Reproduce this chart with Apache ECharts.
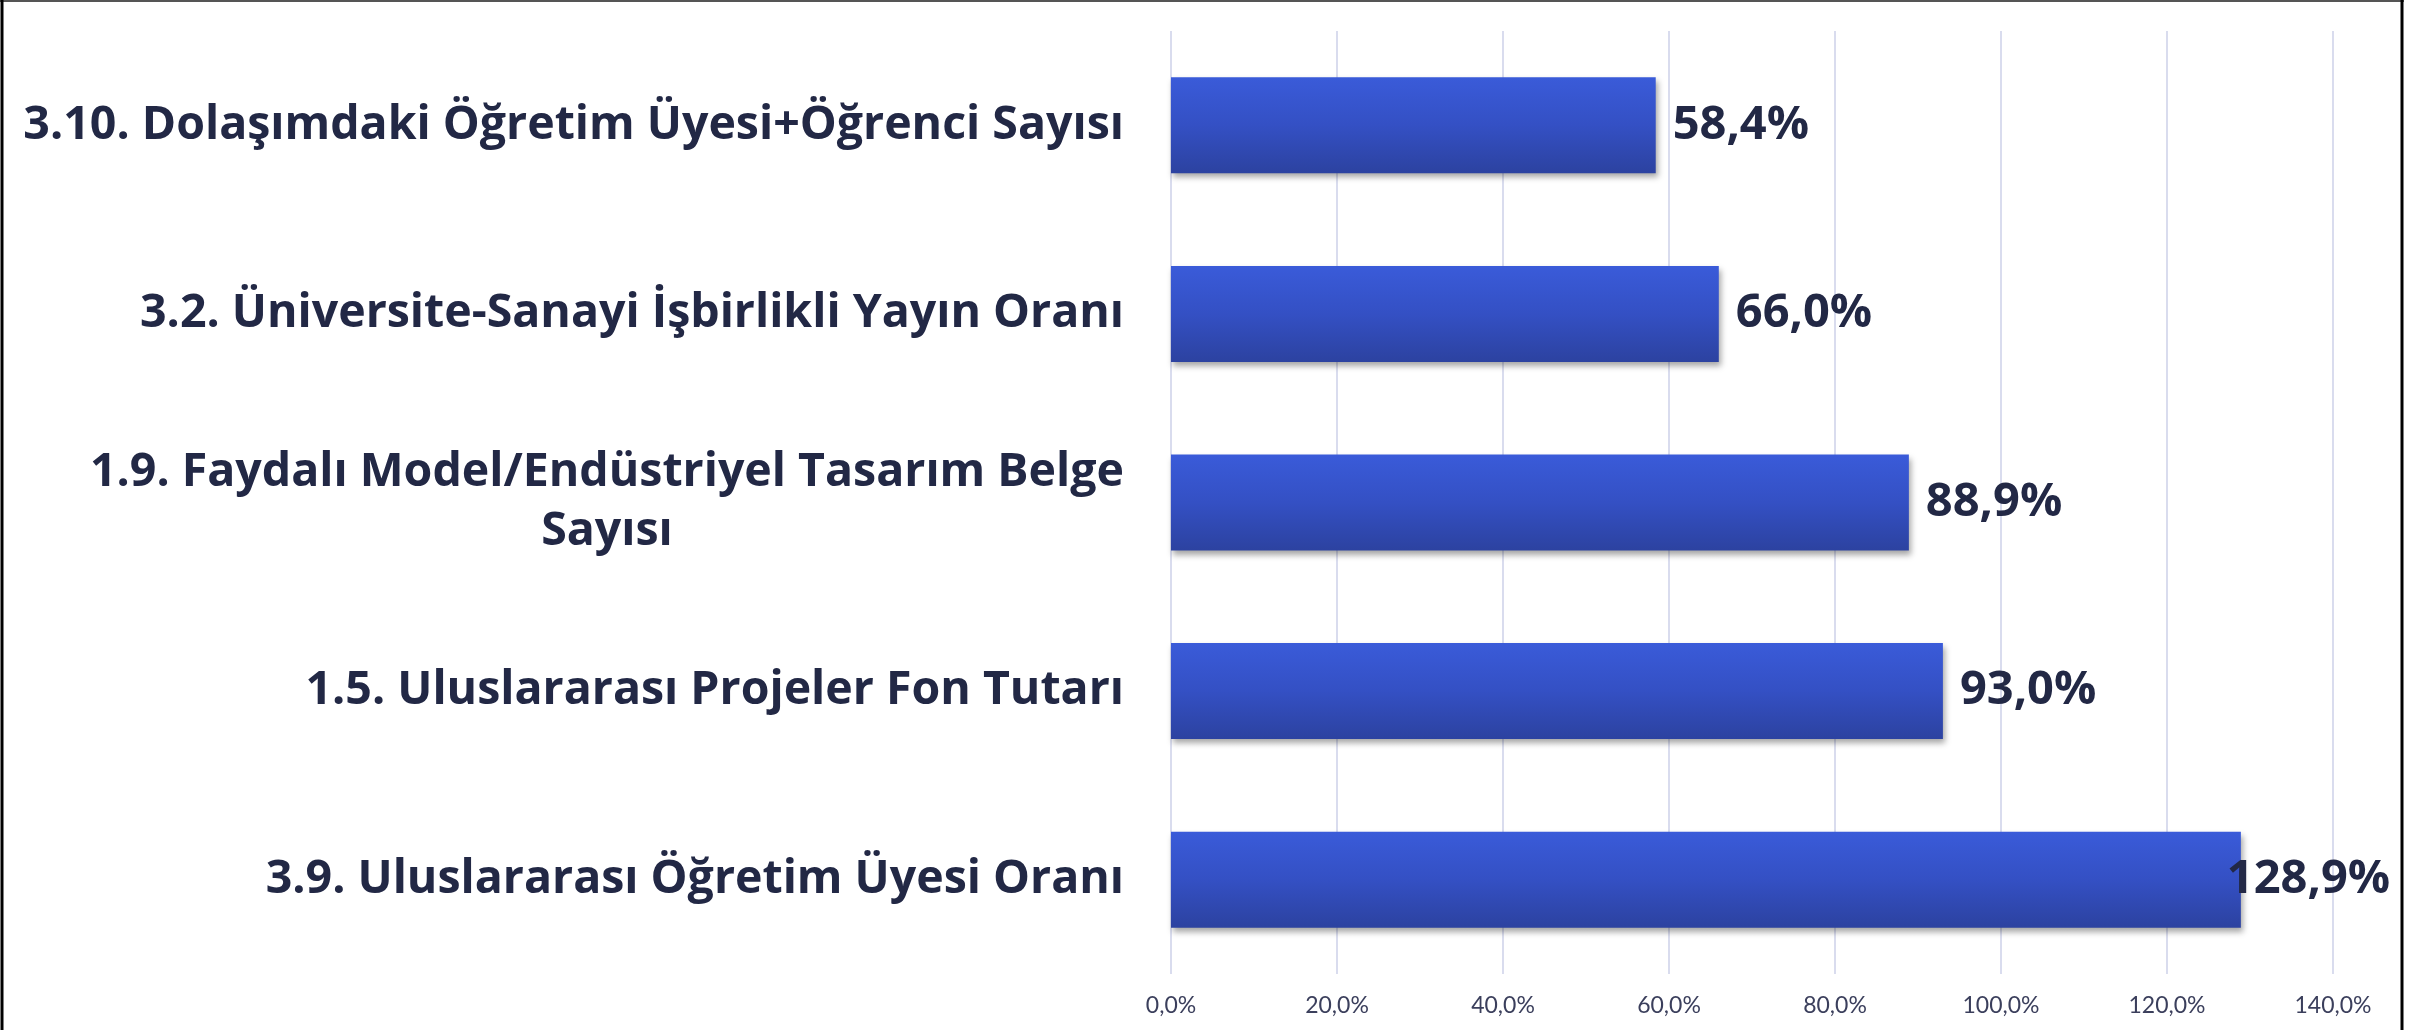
<!DOCTYPE html>
<html>
<head>
<meta charset="utf-8">
<script src="https://cdn.jsdelivr.net/npm/echarts@6/dist/echarts.min.js"></script>
<style>
  html, body { margin: 0; padding: 0; background: #fff; }
  #chart { width: 2428px; height: 1030px; }
</style>
</head>
<body>
<div id="chart"></div>
<script>
// kategoriler yukaridan asagiya
var categories = [
    "3.10. Dolaşımdaki Öğretim Üyesi+Öğrenci Sayısı",
    "3.2. Üniversite-Sanayi İşbirlikli Yayın Oranı",
    "1.9. Faydalı Model/Endüstriyel Tasarım Belge\nSayısı",
    "1.5. Uluslararası Projeler Fon Tutarı",
    "3.9. Uluslararası Öğretim Üyesi Oranı"
];
var values = [58.4, 66.0, 88.9, 93.0, 128.9];
var tickMin = 0, tickMax = 140, tickStep = 20;

var textColor = '#222845';
var boldFont = '"Open Sans"';
var tickFont = 'Lato';

function pct(v) {
    return Number(v).toFixed(1).replace('.', ',') + '%';
}

var chart = echarts.init(document.getElementById('chart'));

var barData = values.map(function (v, i) {
    var item = { value: v };
    // son etiket cizim alanina sigmiyor, Excel'deki gibi sola kaydir
    if (v > 120) {
        item.label = { offset: [-31, 0] };
    }
    return item;
});

var option = {
    backgroundColor: '#ffffff',
    animation: false,
    grid: { left: 1171, right: 95, top: 31, bottom: 56, containLabel: false },
    xAxis: {
        type: 'value',
        min: tickMin,
        max: tickMax,
        interval: tickStep,
        axisLine: { show: false },
        axisTick: { show: false },
        splitLine: { lineStyle: { color: '#d9dcee', width: 2 } },
        axisLabel: {
            margin: 20,
            fontFamily: tickFont,
            fontSize: 23,
            color: '#3b3f5c',
            formatter: function (v) { return pct(v); }
        }
    },
    yAxis: {
        type: 'category',
        data: categories,
        inverse: true,
        axisLine: { show: false },
        axisTick: { show: false },
        splitLine: { show: false },
        axisLabel: {
            margin: 47,
            fontFamily: boldFont,
            fontWeight: 'bold',
            fontSize: 46.5,
            color: textColor,
            lineHeight: 59,
            formatter: function (v) { return '{c|' + v.split('\n').join('}\n{c|') + '}'; },
            rich: {
                c: {
                    align: 'center',
                    fontFamily: boldFont,
                    fontWeight: 'bold',
                    fontSize: 46.5,
                    color: textColor,
                    lineHeight: 59
                }
            }
        }
    },
    series: [{
        type: 'bar',
        data: barData,
        barWidth: 96,
        itemStyle: {
            color: new echarts.graphic.LinearGradient(0, 0, 0, 1, [
                { offset: 0, color: '#3a5bd9' },
                { offset: 0.5, color: '#3450c4' },
                { offset: 1, color: '#2c42a0' }
            ]),
            shadowColor: 'rgba(0,0,0,0.35)',
            shadowBlur: 6,
            shadowOffsetX: 2,
            shadowOffsetY: 4
        },
        label: {
            show: true,
            position: 'right',
            distance: 17,
            fontFamily: boldFont,
            fontWeight: 'bold',
            fontSize: 47,
            color: textColor,
            formatter: function (p) { return pct(p.value); }
        }
    }],
    graphic: [
        { type: 'line', shape: { x1: 0, y1: 1, x2: 2404, y2: 1 }, style: { stroke: '#555', lineWidth: 2 } },
        { type: 'line', shape: { x1: 2, y1: 0, x2: 2, y2: 1030 }, style: { stroke: '#000', lineWidth: 3 } },
        { type: 'line', shape: { x1: 2402, y1: 0, x2: 2402, y2: 1030 }, style: { stroke: '#000', lineWidth: 3 } }
    ]
};

chart.setOption(option);
</script>
</body>
</html>
